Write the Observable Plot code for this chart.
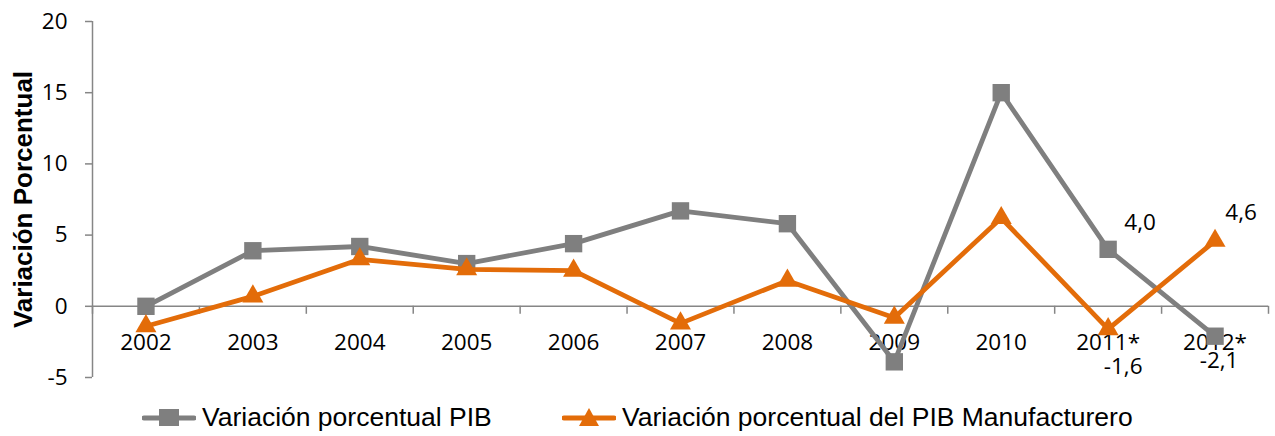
<!DOCTYPE html>
<html>
<head>
<meta charset="utf-8">
<script src="https://cdn.jsdelivr.net/npm/d3@7"></script>
<script src="https://cdn.jsdelivr.net/npm/@observablehq/plot@0.6"></script>
<style>
  html, body { margin: 0; padding: 0; background: #ffffff; }
  #wrap { position: relative; width: 1275px; height: 436px; overflow: hidden; }
  #legend { position: relative; width: 1275px; height: 41px; font-family: "Liberation Sans", Arial, sans-serif; font-size: 26.5px; color: #000; }
  .item { position: absolute; top: 7px; display: flex; align-items: center; white-space: nowrap; }
  .item svg { margin-right: 6px; }
</style>
</head>
<body>
<div id="wrap">
  <div id="chart"></div>
  <div id="legend"></div>
</div>
<script>
// ---- data ----
const years = ["2002", "2003", "2004", "2005", "2006", "2007", "2008", "2009", "2010", "2011*", "2012*"];
const pib = [0.0, 3.9, 4.2, 3.0, 4.4, 6.7, 5.8, -3.9, 15.0, 4.0, -2.1];
const pibManuf = [-1.4, 0.7, 3.3, 2.6, 2.5, -1.2, 1.8, -0.8, 6.2, -1.6, 4.6];
const yTicks = [-5, 0, 5, 10, 15, 20];
const seriesNames = ["Variación porcentual PIB", "Variación porcentual del PIB Manufacturero"];
const yTitle = "Variación Porcentual";

// ---- styles ----
const GRAY = "#7f7f7f";
const ORANGE = "#e36c09";
const AXIS = "#868686";
const NUM_FONT = "'Open Sans', sans-serif";

const idx = years.map((d, i) => i);
const gray = idx.map(i => ({i, year: years[i], v: pib[i]}));
const orange = idx.map(i => ({i, year: years[i], v: pibManuf[i]}));
const bounds = d3.range(years.length + 1).map(k => k - 0.5);
const fmt = v => v.toFixed(1).replace(".", ",");

const chart = Plot.plot({
  width: 1275,
  height: 395,
  marginLeft: 92,
  marginRight: 7,
  marginTop: 21,
  marginBottom: 18,
  x: {domain: [-0.5, years.length - 0.5], axis: null},
  y: {domain: [-5, 20], axis: null},
  style: {fontFamily: NUM_FONT, fontSize: "22.5px", color: "#000", background: "#fff"},
  marks: [
    // y axis
    Plot.ruleX([-0.5], {stroke: AXIS, strokeWidth: 1.5}),
    Plot.axisY({ticks: yTicks, tickSize: 7, tickPadding: 18, tickFormat: d => String(d),
      stroke: AXIS, strokeWidth: 1.5, fill: "#000", label: null, fontSize: 22.5, fontFamily: NUM_FONT}),
    Plot.text([yTitle], {frameAnchor: "left", textAnchor: "middle", dx: -69, rotate: -90, fontSize: 26,
      fontWeight: "bold", fontFamily: "'Liberation Sans', Arial, sans-serif", fill: "#000"}),
    // x axis at zero
    Plot.ruleY([0], {stroke: AXIS, strokeWidth: 1.5}),
    Plot.ruleX(bounds, {x: d => d, y1: 0, y2: 0, insetBottom: -8, stroke: AXIS, strokeWidth: 1.5}),
    Plot.text(years, {x: (d, i) => i, y: 0, dy: 36, text: d => d, fontSize: 22.5, fill: "#000"}),
    // series 1
    Plot.line(gray, {x: "i", y: "v", stroke: GRAY, strokeWidth: 4.8}),
    Plot.dot(gray, {x: "i", y: "v", symbol: "square", r: 9.8, fill: GRAY, stroke: "none"}),
    // series 2
    Plot.line(orange, {x: "i", y: "v", stroke: ORANGE, strokeWidth: 4.8}),
    Plot.dot(orange, {x: "i", y: "v", symbol: "triangle", r: 7.8, fill: ORANGE, stroke: "none"}),
    // data labels
    Plot.text(gray.filter(d => d.year === "2011*"), {x: "i", y: "v", text: d => fmt(d.v), dx: 32, dy: -27, fontSize: 22.5, fill: "#000"}),
    Plot.text(orange.filter(d => d.year === "2012*"), {x: "i", y: "v", text: d => fmt(d.v), dx: 26, dy: -28, fontSize: 22.5, fill: "#000"}),
    Plot.text(orange.filter(d => d.year === "2011*"), {x: "i", y: "v", text: d => fmt(d.v), dx: 15, dy: 38, fontSize: 22.5, fill: "#000"}),
    Plot.text(gray.filter(d => d.year === "2012*"), {x: "i", y: "v", text: d => fmt(d.v), dx: 4, dy: 25, fontSize: 22.5, fill: "#000"})
  ]
});
document.getElementById("chart").appendChild(chart);

// ---- legend ----
const legend = document.getElementById("legend");
const items = [
  {name: seriesNames[0], color: GRAY, marker: "square", left: 142},
  {name: seriesNames[1], color: ORANGE, marker: "triangle", left: 562}
];
for (const it of items) {
  const div = document.createElement("div");
  div.className = "item";
  div.style.left = it.left + "px";
  const markerSvg = it.marker === "square"
    ? `<rect x="17" y="6" width="20" height="17" fill="${it.color}"/>`
    : `<path d="M27,5 L37,23 L17,23 Z" fill="${it.color}"/>`;
  div.innerHTML = `<svg width="54" height="29" viewBox="0 0 54 29"><line x1="2" x2="52" y1="15" y2="15" stroke="${it.color}" stroke-width="5" stroke-linecap="round"/>${markerSvg}</svg><span>${it.name}</span>`;
  legend.appendChild(div);
}
</script>
</body>
</html>
